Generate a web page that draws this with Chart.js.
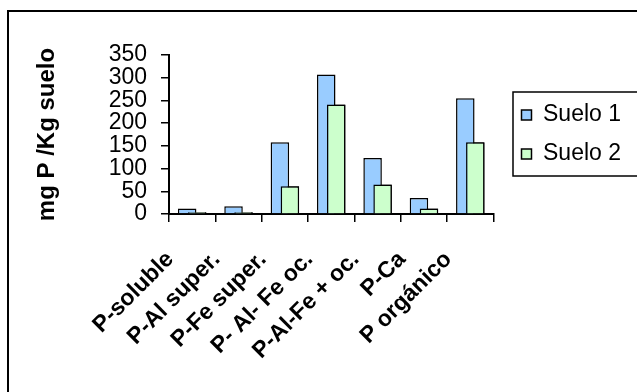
<!DOCTYPE html>
<html>
<head>
<meta charset="utf-8">
<script src="https://cdn.jsdelivr.net/npm/chart.js@4/dist/chart.umd.min.js"></script>
<style>
    html, body { margin: 0; padding: 0; background: #fff; }
    #wrap { width: 637px; height: 392px; position: relative; }
</style>
</head>
<body>
<div id="wrap"><canvas id="chart-fosforo"></canvas></div>
<script>
const categories = ['P-soluble', 'P-Al super.', 'P-Fe super.', 'P- Al- Fe oc.', 'P-Al-Fe + oc.', 'P-Ca', 'P orgánico'];
const suelo1 = [12, 17, 158, 307, 123, 35, 255];
const suelo2 = [4, 4, 61, 241, 65, 12, 158];
const yTicks = [0, 50, 100, 150, 200, 250, 300, 350];

(function(){
    const FONT = 'Liberation Sans, Arial, sans-serif';

    // white page, outer frame and the legend box
    const framePlugin = {
        id: 'frame',
        afterLayout(chart) {
            // leave a gap between the plot and the legend
            chart.legend.left += 12;
            chart.legend.right += 12;
        },
        beforeDraw(chart) {
            const ctx = chart.ctx;
            ctx.save();
            ctx.fillStyle = '#fff';
            ctx.fillRect(0, 0, chart.width, chart.height);
            ctx.strokeStyle = '#000';
            ctx.lineWidth = 2;
            ctx.strokeRect(8, 11, 700, 500);
            ctx.lineWidth = 1.5;
            ctx.strokeRect(513, 92, 200, 84);
            ctx.restore();
        },
        // Suelo 2 overlaps Suelo 1, so draw it again on top
        afterDatasetsDraw(chart) {
            const meta = chart.getDatasetMeta(1);
            if (!meta.hidden) {
                meta.controller.draw();
            }
        }
    };

    const ctx = document.getElementById('chart-fosforo');

    new Chart(ctx, {
        type: 'bar',
        data: {
            labels: categories,
            datasets: [{
                label: 'Suelo 1',
                data: suelo1,
                backgroundColor: '#99CCFF',
                borderColor: '#000',
                borderWidth: 1.5
            }, {
                label: 'Suelo 2',
                data: suelo2,
                backgroundColor: '#CCFFCC',
                borderColor: '#000',
                borderWidth: 1.5
            }]
        },
        options: {
            responsive: true,
            maintainAspectRatio: false,
            animation: false,
            categoryPercentage: 0.432,
            barPercentage: 1.85,
            layout: {
                padding: { left: 33, top: 55, right: 18, bottom: 28 }
            },
            plugins: {
                tooltip: { enabled: false },
                legend: {
                    position: 'right',
                    fullSize: false,
                    labels: {
                        color: '#000',
                        font: { family: FONT, size: 23 },
                        boxWidth: 10,
                        boxHeight: 10,
                        padding: 16
                    }
                }
            },
            scales: {
                x: {
                    offset: true,
                    grid: {
                        offset: true,
                        drawOnChartArea: false,
                        color: '#000',
                        lineWidth: 1.5,
                        tickLength: 8
                    },
                    border: { color: '#000', width: 2 },
                    ticks: {
                        color: '#000',
                        font: { family: FONT, size: 23, weight: 'bold' },
                        minRotation: 45,
                        maxRotation: 45,
                        autoSkip: false,
                        padding: 24,
                        labelOffset: -22
                    },
                    afterFit(scale) {
                        scale.height = 150;
                    }
                },
                y: {
                    min: 0,
                    max: 350,
                    afterBuildTicks(scale) {
                        scale.ticks = yTicks.map(v => ({ value: v }));
                    },
                    grid: {
                        drawOnChartArea: false,
                        color: '#000',
                        lineWidth: 1.5,
                        tickLength: 8
                    },
                    border: { color: '#000', width: 2 },
                    ticks: {
                        color: '#000',
                        font: { family: FONT, size: 23, lineHeight: 1 },
                        autoSkip: false,
                        padding: 14
                    },
                    title: {
                        display: true,
                        text: 'mg P /Kg suelo',
                        color: '#000',
                        font: { family: FONT, size: 24, weight: 'bold' },
                        padding: 0
                    },
                    afterFit(scale) {
                        scale.width = 136;
                    }
                }
            }
        },
        plugins: [framePlugin]
    });
})();
</script>
</body>
</html>
